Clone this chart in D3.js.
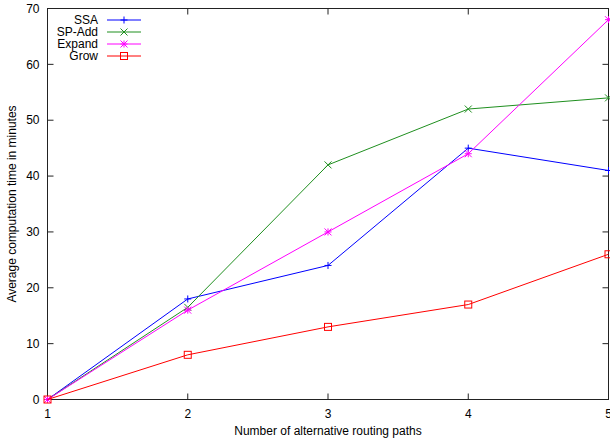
<!DOCTYPE html>
<html>
<head>
<meta charset="utf-8">
<script src="https://cdn.jsdelivr.net/npm/d3@7"></script>
<style>
  body { margin: 0; background: #fff; }
  text { font-family: "Liberation Sans", Arial, sans-serif; fill: #000; }
</style>
</head>
<body>
<svg id="chart" width="610" height="441"></svg>
<script>
"use strict";

// data
const paths = [1, 2, 3, 4, 5];
const ssa = [0, 18, 24, 45, 41];
const spAdd = [0, 16.5, 42, 52, 54];
const expand = [0, 16, 30, 44, 68];
const grow = [0, 8, 13, 17, 26];
const yTicks = [0, 10, 20, 30, 40, 50, 60, 70];

const series = [
    { name: "SSA", values: ssa, color: "#0000ff", mark: "plus" },
    { name: "SP-Add", values: spAdd, color: "#1f8f1f", mark: "cross" },
    { name: "Expand", values: expand, color: "#ff00ff", mark: "star" },
    { name: "Grow", values: grow, color: "#ff0000", mark: "square" }
];

const margin = { top: 8.5, right: 1.5, bottom: 41.5, left: 47.5 };
const W = 610, H = 441;
const svg = d3.select("#chart");

const x = d3.scaleLinear().domain([1, 5]).range([margin.left, W - margin.right]);
const y = d3.scaleLinear().domain([0, 70]).range([H - margin.bottom, margin.top]);

const axisColor = "#222";

// frame
svg.append("rect")
    .attr("x", x(1)).attr("y", y(70))
    .attr("width", x(5) - x(1)).attr("height", y(0) - y(70))
    .attr("fill", "none").attr("stroke", axisColor).attr("stroke-width", 1);

// inward ticks, mirrored
const tickLen = 6;
yTicks.forEach(t => {
    svg.append("line").attr("x1", x(1)).attr("x2", x(1) + tickLen)
        .attr("y1", y(t)).attr("y2", y(t)).attr("stroke", axisColor);
    svg.append("line").attr("x1", x(5)).attr("x2", x(5) - tickLen)
        .attr("y1", y(t)).attr("y2", y(t)).attr("stroke", axisColor);
    svg.append("text").attr("x", x(1) - 8).attr("y", y(t)).attr("dy", "0.35em")
        .attr("text-anchor", "end").style("font-size", "12px").text(t);
});
paths.forEach(p => {
    svg.append("line").attr("x1", x(p)).attr("x2", x(p))
        .attr("y1", y(0)).attr("y2", y(0) - tickLen).attr("stroke", axisColor);
    svg.append("line").attr("x1", x(p)).attr("x2", x(p))
        .attr("y1", y(70)).attr("y2", y(70) + tickLen).attr("stroke", axisColor);
    svg.append("text").attr("x", x(p)).attr("y", y(0) + 18)
        .attr("text-anchor", "middle").style("font-size", "12px").text(p);
});

// axis titles
svg.append("text")
    .attr("x", (x(1) + x(5)) / 2).attr("y", 435)
    .attr("text-anchor", "middle").style("font-size", "12px")
    .text("Number of alternative routing paths");
svg.append("text")
    .attr("transform", "translate(16," + ((y(0) + y(70)) / 2) + ") rotate(-90)")
    .attr("text-anchor", "middle").style("font-size", "12px")
    .text("Average computation time in minutes");

function drawMark(g, kind, cx, cy, color) {
    const s = 3.5;
    if (kind === "plus" || kind === "star") {
        g.append("path").attr("d", `M${cx - s},${cy}H${cx + s}M${cx},${cy - s}V${cy + s}`)
            .attr("stroke", color).attr("fill", "none");
    }
    if (kind === "cross" || kind === "star") {
        g.append("path").attr("d", `M${cx - s},${cy - s}L${cx + s},${cy + s}M${cx - s},${cy + s}L${cx + s},${cy - s}`)
            .attr("stroke", color).attr("fill", "none");
    }
    if (kind === "square") {
        g.append("rect").attr("x", cx - s).attr("y", cy - s)
            .attr("width", 2 * s).attr("height", 2 * s)
            .attr("stroke", color).attr("fill", "none");
    }
}

const line = d3.line().x((d, i) => x(paths[i])).y(d => y(d));

series.forEach(s => {
    const g = svg.append("g");
    g.append("path").datum(s.values).attr("d", line)
        .attr("fill", "none").attr("stroke", s.color).attr("stroke-width", 1);
    s.values.forEach((v, i) => drawMark(g, s.mark, x(paths[i]), y(v), s.color));
});

// legend
series.forEach((s, i) => {
    const ly = 20 + i * 12;
    const g = svg.append("g");
    g.append("text").attr("x", 98).attr("y", ly).attr("dy", "0.35em")
        .attr("text-anchor", "end").style("font-size", "12px").text(s.name);
    g.append("line").attr("x1", 107).attr("x2", 141).attr("y1", ly).attr("y2", ly)
        .attr("stroke", s.color);
    drawMark(g, s.mark, 124, ly, s.color);
});
</script>
</body>
</html>
